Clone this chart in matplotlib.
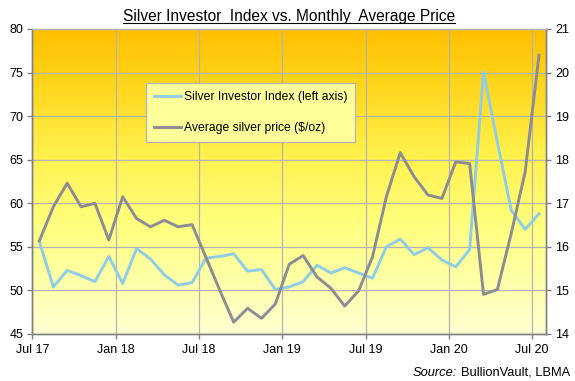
import numpy as np
import matplotlib
matplotlib.use("Agg")
import matplotlib.pyplot as plt
from matplotlib.colors import LinearSegmentedColormap
from matplotlib.lines import Line2D

plt.rcParams['font.family'] = ['Liberation Sans', 'DejaVu Sans']

# monthly data, Jul 2017 .. Jul 2020
index_vals = [55.6, 50.4, 52.3, 51.7, 51.0, 53.9, 50.8, 54.8, 53.6, 51.8,
              50.6, 50.9, 53.7, 53.9, 54.2, 52.2, 52.4, 50.1, 50.4, 51.0,
              52.9, 52.0, 52.6, 52.0, 51.4, 55.0, 55.9, 54.1, 54.9, 53.5,
              52.7, 54.7, 75.1, 67.0, 59.2, 57.0, 58.8]
price_vals = [16.14, 16.92, 17.46, 16.92, 17.00, 16.16, 17.15, 16.65, 16.46, 16.61,
              16.46, 16.51, 15.76, 15.00, 14.27, 14.59, 14.36, 14.69, 15.60, 15.80,
              15.31, 15.05, 14.64, 14.99, 15.77, 17.15, 18.16, 17.61, 17.19, 17.11,
              17.95, 17.91, 14.91, 15.02, 16.31, 17.72, 20.40]
tick_labels = ['Jul 17', 'Jan 18', 'Jul 18', 'Jan 19', 'Jul 19', 'Jan 20', 'Jul 20']

months = np.arange(len(index_vals)) + 0.5

fig = plt.figure(figsize=(5.75, 3.81), dpi=100)
ax = fig.add_axes([0.0565, 0.1234, 0.893, 0.8005])
ax2 = ax.twinx()

# gradient background
grad = LinearSegmentedColormap.from_list(
    'bg', [(0, '#FFFFD2'), (0.35, '#FFFF80'), (0.6, '#FFF04A'), (0.8, '#FFD820'), (1, '#FFC000')])
ax.imshow(np.linspace(0, 1, 256).reshape(-1, 1), cmap=grad, origin='lower',
          extent=[0, 1, 0, 1], transform=ax.transAxes, aspect='auto', zorder=0)

ax.plot(months, index_vals, color='#8ECDE6', lw=2.1, zorder=3,
        label='Silver Investor Index (left axis)')
ax2.plot(months, price_vals, color='#8C8C94', lw=2.1, zorder=3,
         label='Average silver price ($/oz)')

ax.set_xlim(0, 37)
ax.set_ylim(45, 80)
ax2.set_ylim(14, 21)
ax.set_xticks(np.arange(0, 37, 6))
ax.set_xticklabels(tick_labels)
ax.set_yticks(np.arange(45, 81, 5))
ax2.set_yticks(np.arange(14, 22, 1))

ax.grid(True, color='#B4B4B4', lw=0.9, zorder=1)
ax.set_axisbelow(True)

for a in (ax, ax2):
    a.spines['top'].set_color('#B4B4B4')
    a.spines['top'].set_linewidth(0.9)
    for s in ('left', 'right', 'bottom'):
        a.spines[s].set_color('#808080')
        a.spines[s].set_linewidth(1.0)
    a.tick_params(colors='#808080', labelcolor='black', labelsize=9,
                  length=3.5, width=1.0)
ax.tick_params(axis='x', pad=4)
ax.tick_params(axis='y', pad=3)
ax2.tick_params(axis='y', pad=3)

h1, l1 = ax.get_legend_handles_labels()
h2, l2 = ax2.get_legend_handles_labels()
leg = ax2.legend(h1 + h2, l1 + l2, loc='upper left', bbox_to_anchor=(0.222, 0.823),
                 borderaxespad=0, fancybox=False, framealpha=1, facecolor='#FFFF99',
                 edgecolor='#B4B4B4', fontsize=8.7, handlelength=2.2,
                 labelspacing=1.6, borderpad=0.65, handletextpad=0.25)
leg.get_frame().set_linewidth(0.9)

title = fig.text(0.503, 0.957, 'Silver Investor  Index vs. Monthly  Average Price',
                 ha='center', va='center', fontsize=11.2)
src = fig.text(0.991, 0.026, 'BullionVault, LBMA', ha='right', va='center_baseline',
               fontsize=9.3)

fig.canvas.draw()
inv = fig.transFigure.inverted()
# italic "Source:" placed just left of the source names
sb = src.get_window_extent().transformed(inv)
fig.text(sb.x0 - 0.007, 0.026, 'Source:', ha='right', va='center_baseline',
         fontsize=9.3, style='italic')

# underline the title
bb = title.get_window_extent().transformed(inv)
fig.add_artist(Line2D([bb.x0, bb.x1], [bb.y0 + 0.002, bb.y0 + 0.002],
                      transform=fig.transFigure, color='black', lw=0.8))

fig.savefig('out.png', dpi=100)
